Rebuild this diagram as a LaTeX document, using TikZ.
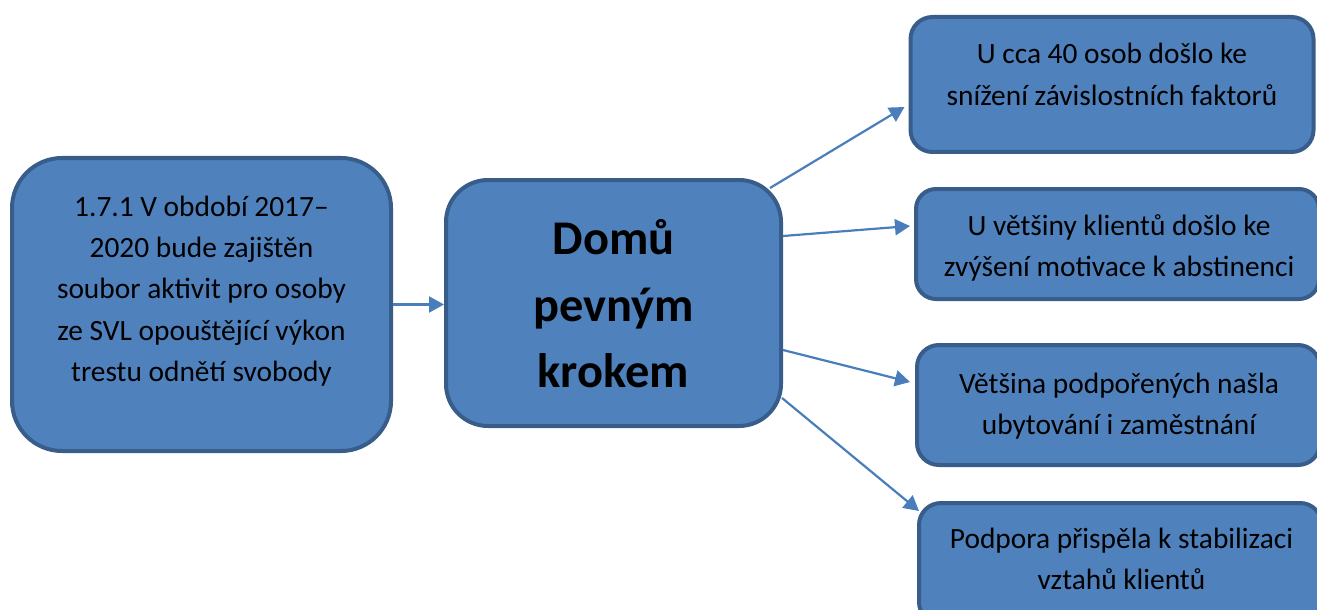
\documentclass[tikz,border=0pt]{standalone}
\usepackage{fontspec}
\setmainfont{Carlito}
\usetikzlibrary{calc,arrows.meta}
\definecolor{boxfill}{HTML}{4F81BD}
\definecolor{boxline}{HTML}{385D8A}
\definecolor{arrowblue}{HTML}{4A7EBB}

\begin{document}
\begin{tikzpicture}[x=0.5pt,y=-0.5pt,
  panel/.style={draw=boxline,fill=boxfill,line width=2pt,rectangle,inner sep=0pt},
  result/.style={panel,minimum width=201.5pt,rounded corners=11pt},
  label text/.style={align=center,inner sep=0pt,font=\fontsize{14.7}{20.6}\selectfont},
  link/.style={draw=arrowblue,line width=1.1pt,-{Triangle[length=7.5pt,width=8pt]}}]
\clip (0,0) rectangle (1317,610);

\node[panel,minimum width=189.5pt,minimum height=146.5pt,rounded corners=25pt] (goal) at (201.5,304.5) {};
\node[label text] (goal text) at (201.5,291) {1.7.1 V období 2017--\\2020 bude zajištěn\\soubor aktivit pro osoby\\ze SVL opouštějící výkon\\trestu odnětí svobody};

\node[panel,minimum width=167.5pt,minimum height=123pt,rounded corners=21pt] (home) at (613.5,303) {};
\node[align=center,inner sep=0pt,font=\fontsize{24.2}{33.2}\selectfont\bfseries] (home text) at (613.5,304) {Domů\\pevným\\krokem};

\node[result,minimum height=67.5pt] (r1) at (1112,84.5) {};
\node[label text] (r1 text) at (1112,74.5) {U cca 40 osob došlo ke\\snížení závislostních faktorů};

\node[result,minimum height=55pt,rounded corners=10pt] (r2) at (1117.5,244) {};
\node[label text] (r2 text) at (1119,248) {U většiny klientů došlo ke\\zvýšení motivace k abstinenci};

\node[result,minimum height=60pt] (r3) at (1118.5,405) {};
\node[label text] (r3 text) at (1119,406) {Většina podpořených našla\\ubytování i zaměstnání};

\node[result,minimum height=60.5pt] (r4) at (1120.5,563.5) {};
\node[label text] (r4 text) at (1121.5,558.5) {Podpora přispěla k stabilizaci\\vztahů klientů};

\draw[link] (goal.east) -- (goal.east -| home.west);
\draw[link] ($(home.east)+(-13,-115)$) -- ($(r1.west)+(-4,22.5)$);
\draw[link] ($(home.east)+(0,-67)$) -- ($(r2.west)+(-4,-18)$);
\draw[link] ($(home.east)+(0,47)$) -- ($(r3.west)+(-5,-23)$);
\draw[link] ($(home.east)+(-1,95)$) -- ($(r4.west)+(2,-52.5)$);
\end{tikzpicture}
\end{document}
